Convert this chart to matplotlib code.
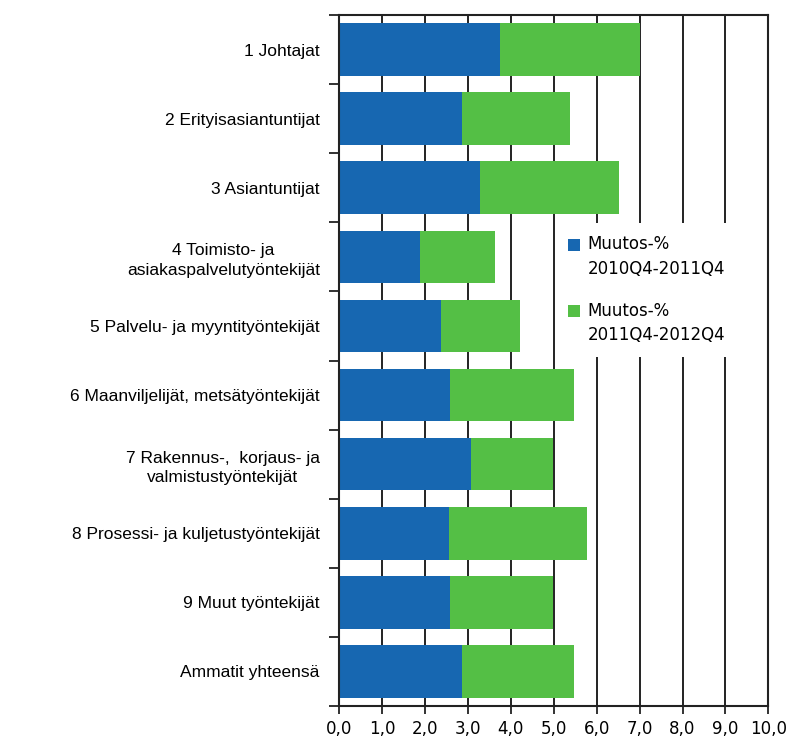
import matplotlib
matplotlib.use("Agg")
import matplotlib.pyplot as plt
import numpy as np

categories = [
    "1 Johtajat",
    "2 Erityisasiantuntijat",
    "3 Asiantuntijat",
    "4 Toimisto- ja\nasiakaspalvelutyöntekijät",
    "5 Palvelu- ja myyntityöntekijät",
    "6 Maanviljelijät, metsätyöntekijät",
    "7 Rakennus-,  korjaus- ja\nvalmistustyöntekijät",
    "8 Prosessi- ja kuljetustyöntekijät",
    "9 Muut työntekijät",
    "Ammatit yhteensä",
]
change_2011 = [3.75, 2.86, 3.27, 1.89, 2.37, 2.59, 3.08, 2.56, 2.59, 2.86]
change_2012 = [3.26, 2.51, 3.26, 1.75, 1.84, 2.89, 1.91, 3.22, 2.40, 2.62]
series_labels = ["Muutos-%\n2010Q4-2011Q4", "Muutos-%\n2011Q4-2012Q4"]
xticks = [0, 1, 2, 3, 4, 5, 6, 7, 8, 9, 10]
xtick_labels = ["0,0", "1,0", "2,0", "3,0", "4,0", "5,0", "6,0", "7,0", "8,0", "9,0", "10,0"]

plt.rcParams['font.family'] = ['Liberation Sans', 'DejaVu Sans']

fig = plt.figure(figsize=(7.9, 7.43), dpi=100)
ax = fig.add_axes([339.3 / 790, 1 - 706 / 743, (768.3 - 339.3) / 790, (706 - 15) / 743])

blue = "#1767B1"
green = "#54BF45"
y = np.arange(len(categories))
h = 0.76
ax.barh(y, change_2011, height=h, color=blue, label=series_labels[0], zorder=2)
ax.barh(y, change_2012, left=change_2011, height=h, color=green, label=series_labels[1], zorder=2)

ax.set_xlim(0, 10)
ax.set_ylim(len(categories) - 0.5, -0.5)

ax.set_xticks(xticks)
ax.set_xticklabels(xtick_labels, fontsize=12, family=['DejaVu Sans'])
ax.set_yticks(y)
ax.set_yticklabels(categories, fontsize=12.5, ha='right', multialignment='center',
                   linespacing=1.4)
ax.tick_params(axis='y', which='major', length=0, pad=14)
ax.set_yticks(np.arange(-0.5, len(categories)), minor=True)
ax.tick_params(axis='y', which='minor', length=7, width=1.3, color='#222222')
ax.tick_params(axis='x', which='major', length=6, width=1.3, color='#222222', pad=4)

for xv in xticks[1:-1]:
    ax.axvline(xv, color='#222222', lw=1.4, zorder=0.5)

for s in ax.spines.values():
    s.set_color('#222222')
    s.set_linewidth(1.5)
    s.set_zorder(4)

leg = ax.legend(loc='upper left', bbox_to_anchor=((555 - 339.3) / 429, 1 - (223 - 15) / 691),
                frameon=True, prop={'family': 'DejaVu Sans', 'size': 12},
                handlelength=0.75, handleheight=0.75,
                handletextpad=0.45, labelspacing=1.45, borderpad=0.75, borderaxespad=0,
                fancybox=False)
leg.get_frame().set_edgecolor('none')
leg.get_frame().set_facecolor('white')
leg.get_frame().set_alpha(1)
leg.set_zorder(3)
for t in leg.get_texts():
    t.set_linespacing(1.45)
for hdl in leg.legend_handles:
    hdl.set_y(hdl.get_y() + 9.5)

fig.savefig("out.png", dpi=100)
